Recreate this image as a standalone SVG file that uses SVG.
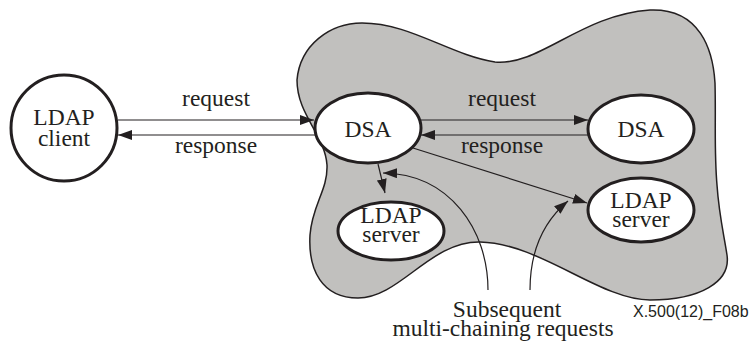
<svg xmlns="http://www.w3.org/2000/svg" width="749" height="343" viewBox="0 0 749 343">
<style>
text{font-family:'Liberation Serif','Times New Roman','DejaVu Serif',serif;font-size:23.5px;fill:#231f20;text-anchor:middle}
.n{fill:#fff;stroke:#231f20;stroke-width:3}
.c{fill:none;stroke:#231f20;stroke-width:1.2}
.s{font-family:'Liberation Sans',Arial,sans-serif;font-size:16px;text-anchor:start}
</style>
<defs>
<marker id="ah" viewBox="0 0 14 10" refX="14" refY="5" markerWidth="14" markerHeight="10" markerUnits="userSpaceOnUse" orient="auto">
<path d="M0,0 L14,5 L0,10 Z" fill="#231f20"/>
</marker>
</defs>
<rect width="749" height="343" fill="#fff"/>
<path id="domain" d="M297,80 C300,45 330,23 362,23 C410,23 450,55 495,62 C540,66 580,15 650,10 C700,8 713,50 715,83 C716,120 714,150 717,185 C719,215 724,235 727,255 C731,282 700,300 650,300 C600,300 540,243 480,242 C430,241 400,298 358,298 C322,298 308,270 310,235 C312,205 328,190 327,165 C325,135 297,115 297,80 Z" fill="#c1c0be" stroke="#231f20" stroke-width="1.5"/>
<g id="connectors" class="c">
<line x1="118" y1="120" x2="314" y2="120" marker-end="url(#ah)"/>
<line x1="315" y1="135" x2="118" y2="135" marker-end="url(#ah)"/>
<line x1="421" y1="120" x2="588" y2="120" marker-end="url(#ah)"/>
<line x1="588" y1="135" x2="421" y2="135" marker-end="url(#ah)"/>
<line x1="378" y1="164" x2="385" y2="193" marker-end="url(#ah)"/>
<line x1="413" y1="148" x2="587" y2="203" marker-end="url(#ah)"/>
<path d="M488,290 C488,230 450,174 383,173" marker-end="url(#ah)"/>
<path d="M530,290 C530,250 543,222 568,201" marker-end="url(#ah)"/>
</g>
<g id="ldap-client">
<circle class="n" cx="64" cy="128" r="53"/>
<text x="64" y="125">LDAP</text>
<text x="64" y="146">client</text>
</g>
<g id="dsa1">
<ellipse class="n" cx="368" cy="128" rx="53" ry="35"/>
<text x="368" y="137">DSA</text>
</g>
<g id="dsa2">
<ellipse class="n" cx="641" cy="129" rx="53" ry="34"/>
<text x="641" y="137">DSA</text>
</g>
<g id="ldap-server1">
<ellipse class="n" cx="391" cy="231" rx="53" ry="29"/>
<text x="391" y="223">LDAP</text>
<text x="391" y="242">server</text>
</g>
<g id="ldap-server2">
<ellipse class="n" cx="641" cy="210" rx="53" ry="32"/>
<text x="641" y="208">LDAP</text>
<text x="641" y="227">server</text>
</g>
<g id="labels">
<text x="216" y="106">request</text>
<text x="216" y="153">response</text>
<text x="502" y="106">request</text>
<text x="502" y="153">response</text>
<text x="507" y="317">Subsequent</text>
<text x="503" y="336">multi-chaining requests</text>
<text class="s" x="633" y="317">X.500(12)_F08b</text>
</g>
</svg>
